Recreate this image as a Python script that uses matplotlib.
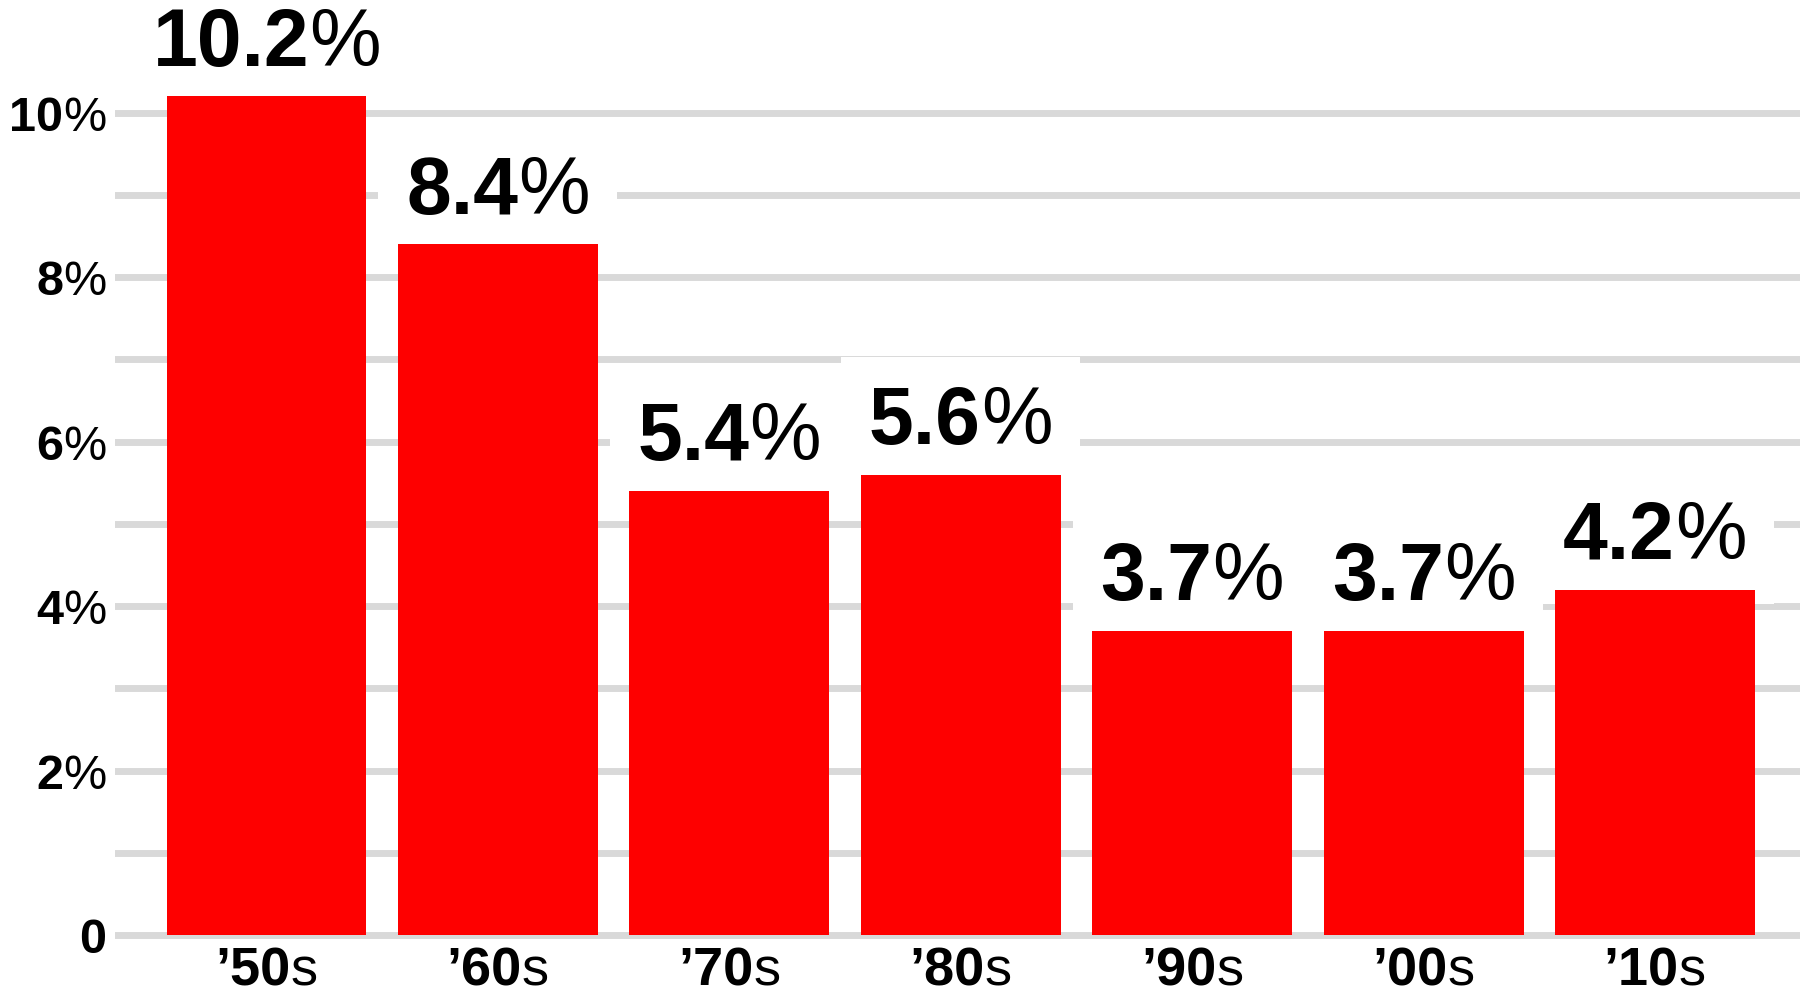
import matplotlib
matplotlib.use("Agg")
import matplotlib.pyplot as plt
from matplotlib.offsetbox import TextArea, HPacker, AnnotationBbox

decades = ["50", "60", "70", "80", "90", "00", "10"]
rates = [10.2, 8.4, 5.4, 5.6, 3.7, 3.7, 4.2]
ytick_vals = [0, 2, 4, 6, 8, 10]

FONT = ["Liberation Sans Narrow", "Liberation Sans", "DejaVu Sans"]
RED = "#fe0000"
GRID = "#d9d9d9"


def mixed(parts, size):
    # bold digits next to lighter suffix, sitting on one baseline
    kids = [TextArea(t, textprops=dict(fontsize=size, fontweight=w,
                                       family=FONT, color="black"))
            for t, w in parts]
    return HPacker(children=kids, align="baseline", pad=0, sep=0)


fig = plt.figure(figsize=(18.1, 10.01), dpi=100)
ax = fig.add_axes([0.0635, 0.0496, 0.931, 0.9444])

x = list(range(len(rates)))
ax.bar(x, rates, width=0.864, color=RED, zorder=3)
ax.set_xlim(-0.655, 6.627)
ax.set_ylim(-0.2, 11.3)
ax.set_yticks(range(0, 11))
ax.set_axisbelow(True)
ax.grid(axis="y", color=GRID, linewidth=5)
ax.tick_params(left=False, bottom=False, labelleft=False, labelbottom=False)
for s in ax.spines.values():
    s.set_visible(False)

# value labels, white box breaks the grid lines behind them
for xi, v in zip(x, rates):
    box = mixed([(f"{v:.1f}", "bold"), ("%", "normal")], 58)
    ab = AnnotationBbox(box, (xi, v), xybox=(0, 10), xycoords="data",
                        boxcoords="offset points", box_alignment=(0.5, 0),
                        frameon=True, pad=2.0,
                        bboxprops=dict(facecolor="white", edgecolor="none"),
                        annotation_clip=False, zorder=2)
    ax.add_artist(ab)

# y labels
for v in ytick_vals:
    parts = [(str(v), "bold")] if v == 0 else [(str(v), "bold"), ("%", "normal")]
    ab = AnnotationBbox(mixed(parts, 35), (-0.005, v), xybox=(0, -4),
                        xycoords=("axes fraction", "data"),
                        boxcoords="offset points", box_alignment=(1, 0.5),
                        frameon=False, annotation_clip=False)
    ax.add_artist(ab)

# x labels
for xi, d in zip(x, decades):
    ab = AnnotationBbox(mixed([("\u2019" + d, "bold"), ("s", "normal")], 39),
                        (xi, 0), xybox=(0, -8), xycoords="data",
                        boxcoords="offset points", box_alignment=(0.5, 1),
                        frameon=False, annotation_clip=False)
    ax.add_artist(ab)

fig.savefig("out.png", dpi=100, facecolor="white")
